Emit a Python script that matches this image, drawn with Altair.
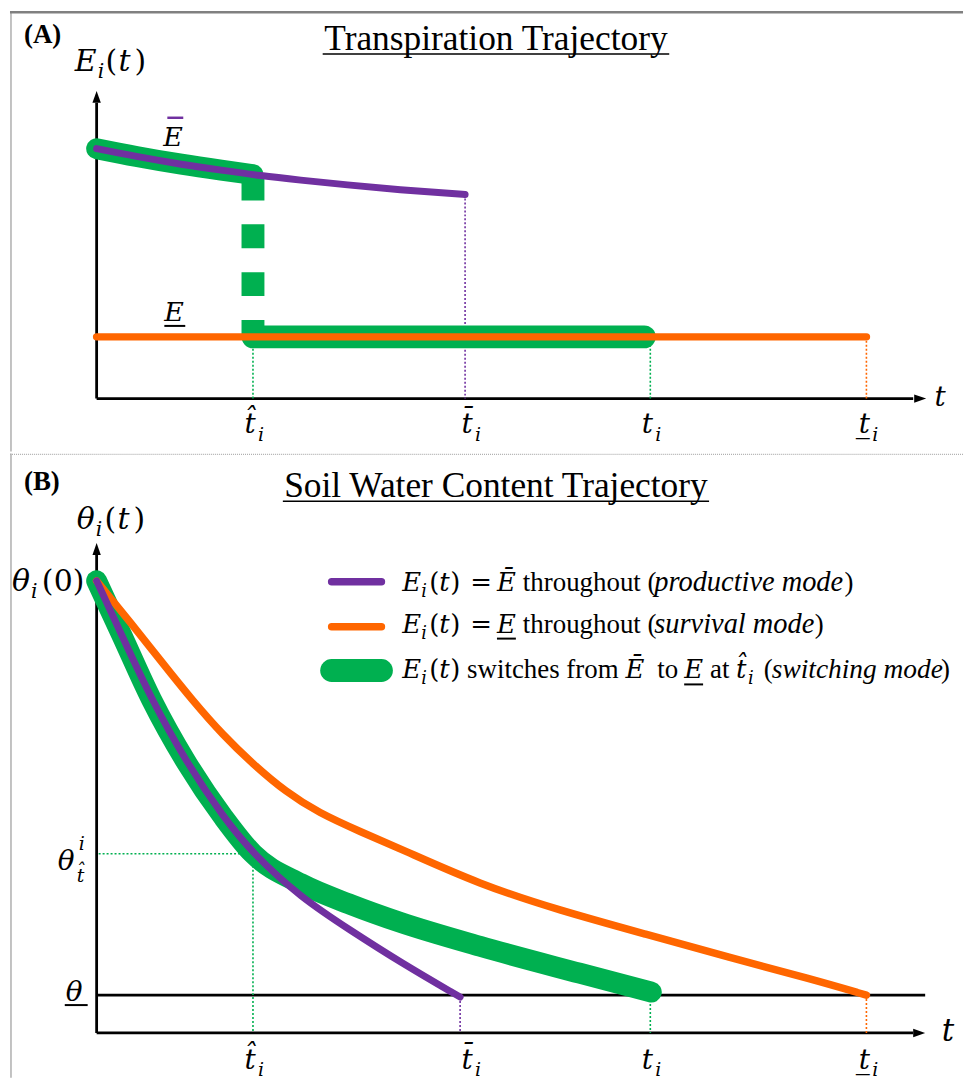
import altair as alt
import pandas as pd

# ---------------- values (arbitrary units) ----------------
# time axis (shared by both panels)
t_hat = 1.57          # switching time  t̂_i
t_bar_A = 3.70        # end of productive mode (panel A)
t_bar_B = 3.65        # end of productive mode (panel B)
t_sw = 5.56           # end of switching mode  t_i
t_low = 7.73          # end of survival mode  t̲_i

tick_names = ["t\u0302", "t\u0304", "t", "t\u0332"]   # t̂, t̄, t, t̲  (subscript i added)
tick_label_t = [1.54, 3.72, 5.53, 7.71]

# Panel A : transpiration E_i(t)
A_prod_t = [0.00, 0.40, 0.85, 1.25, 1.65, 2.05, 2.52, 3.05, 3.70]
A_prod_E = [2.510, 2.432, 2.354, 2.294, 2.240, 2.194, 2.146, 2.098, 2.050]
A_sw_t = [0.00, 0.40, 0.85, 1.25, 1.57]
A_sw_E = [2.510, 2.432, 2.354, 2.294, 2.250]
E_low = 0.62          # E̲
E_sw_top = 2.23       # where the switch drops from Ē

# Panel B : soil water content θ_i(t)
B_prod_t = [0.00, 0.25, 0.55, 0.90, 1.27, 1.57, 2.05, 2.55, 3.05, 3.65]
B_prod_th = [4.54, 4.00, 3.35, 2.72, 2.17, 1.80, 1.36, 1.03, 0.71, 0.36]
B_sw_t = [0.00, 0.25, 0.55, 0.90, 1.27, 1.57, 2.05, 2.55, 3.05, 3.85, 4.85, 5.57]
B_sw_th = [4.54, 4.00, 3.35, 2.72, 2.17, 1.80, 1.50, 1.29, 1.11, 0.87, 0.60, 0.41]
B_surv_t = [0.00, 0.35, 0.65, 0.97, 1.27, 1.57, 1.90, 2.23, 2.65, 3.05, 3.85, 4.65,
            5.52, 6.35, 7.18, 7.73]
B_surv_th = [4.54, 4.11, 3.73, 3.33, 2.99, 2.70, 2.42, 2.21, 2.02, 1.85, 1.49, 1.23,
             0.99, 0.76, 0.54, 0.38]
theta_low = 0.38      # θ̲
theta_hat = 1.80      # θ at t̂

# ---------------- styling ----------------
PURPLE = "#7030A0"
ORANGE = "#FF6600"
GREEN = "#00B050"
MATH = "DejaVu Serif"
SERIF = "Liberation Serif"

W, HA, HB = 957, 442, 627
TOP_A, TOP_B = 8, 450

xs = alt.Scale(domain=[-0.87, 8.70], nice=False, zero=False)
ysA = alt.Scale(domain=[-0.53, 3.89], nice=False, zero=False)
ysB = alt.Scale(domain=[-0.45, 5.82], nice=False, zero=False)

ONE = pd.DataFrame({"k": [0]})


def text_at(s, X, Y, top, size=27, font=SERIF, style="normal", weight="normal",
            color="black", align="left"):
    return alt.Chart(ONE).mark_text(
        text=s, font=font, fontSize=size, fontStyle=style, fontWeight=weight,
        color=color, align=align, baseline="alphabetic"
    ).encode(x=alt.value(X - 8), y=alt.value(Y - top))


def rule_px(X1, X2, Y1, Y2, top, color="black", width=2.0, dash=None, cap="butt"):
    kw = dict(color=color, strokeWidth=width, strokeCap=cap)
    if dash:
        kw["strokeDash"] = dash
    return alt.Chart(ONE).mark_rule(**kw).encode(
        x=alt.value(X1 - 8), x2=alt.value(X2 - 8),
        y=alt.value(Y1 - top), y2=alt.value(Y2 - top))


def curve(t, v, ys, color, width, interp="monotone"):
    df = pd.DataFrame({"t": t, "v": v})
    return alt.Chart(df).mark_line(
        color=color, strokeWidth=width, strokeCap="round", strokeJoin="round",
        interpolate=interp
    ).encode(x=alt.X("t:Q", scale=xs, axis=None),
             y=alt.Y("v:Q", scale=ys, axis=None))


def seg(t1, v1, t2, v2, ys, color="black", width=2.8, dash=None, cap="butt"):
    df = pd.DataFrame({"t": [t1], "v": [v1], "t2": [t2], "v2": [v2]})
    kw = dict(color=color, strokeWidth=width, strokeCap=cap)
    if dash:
        kw["strokeDash"] = dash
    return alt.Chart(df).mark_rule(**kw).encode(
        x=alt.X("t:Q", scale=xs, axis=None), x2="t2:Q",
        y=alt.Y("v:Q", scale=ys, axis=None), y2="v2:Q")


def arrow(t, v, ys, shape):
    df = pd.DataFrame({"t": [t], "v": [v]})
    return alt.Chart(df).mark_point(
        shape=shape, filled=True, size=144, color="black", opacity=1, strokeWidth=0
    ).encode(x=alt.X("t:Q", scale=xs, axis=None), y=alt.Y("v:Q", scale=ys, axis=None))


UP = "M0,-1L0.7,1L-0.7,1Z"
RIGHT = "M1,0L-1,-0.7L-1,0.7Z"


def tick_labels(base_y_px, sub_y_px):
    df = pd.DataFrame({"t": tick_label_t, "s": tick_names})
    main = alt.Chart(df).mark_text(
        font=MATH, fontSize=28, fontStyle="italic", align="center", baseline="alphabetic"
    ).encode(x=alt.X("t:Q", scale=xs, axis=None), y=alt.value(base_y_px), text="s:N")
    sub = alt.Chart(df).mark_text(
        font=MATH, fontSize=19, fontStyle="italic", align="center", baseline="alphabetic",
        dx=11, text="i"
    ).encode(x=alt.X("t:Q", scale=xs, axis=None), y=alt.value(sub_y_px))
    return [main, sub]


def func_of(sym, arg, X, Y, top, size, off, arg_italic=True):
    """sym_i(arg) built from pieces; off = x offsets of (i, '(', arg, ')')."""
    return [
        text_at(sym, X, Y, top, size=size, font=MATH, style="italic"),
        text_at("i", X + off[0], Y + round(size * 0.24), top, size=size * 0.68,
                font=MATH, style="italic"),
        text_at("(", X + off[1], Y, top, size=size, font=MATH),
        text_at(arg, X + off[2], Y, top, size=size, font=MATH,
                style="italic" if arg_italic else "normal"),
        text_at(")", X + off[3], Y, top, size=size, font=MATH),
    ]


LEG_OFF = (19, 27, 37, 48)

# ======================= Panel A =======================
TA = TOP_A
layersA = [
    rule_px(9, 9, 8, 450, TA, color="#9a9a9a", width=1.2),
    rule_px(8, 965, 9, 9, TA, color="#808080", width=2.5),
    # axes
    seg(0, 0, 0, 2.97, ysA), arrow(0, 3.03, ysA, UP),
    seg(0, 0, 8.2, 0, ysA), arrow(8.27, 0, ysA, RIGHT),
    # dotted drop lines
    seg(t_hat, E_low, t_hat, 0, ysA, color=GREEN, width=1.6, dash=[2, 2]),
    seg(t_bar_A, 2.05, t_bar_A, 0, ysA, color=PURPLE, width=1.6, dash=[2, 2]),
    seg(t_sw, E_low, t_sw, 0, ysA, color=GREEN, width=1.6, dash=[2, 2]),
    seg(t_low, E_low, t_low, 0, ysA, color=ORANGE, width=1.6, dash=[2, 2]),
    # switching mode (green)
    curve(A_sw_t, A_sw_E, ysA, GREEN, 21),
    seg(t_hat, E_sw_top, t_hat, E_low, ysA, color=GREEN, width=23, dash=[24, 24]),
    curve([t_hat, t_sw - 0.06], [E_low, E_low], ysA, GREEN, 23, interp="linear"),
    # survival mode (orange) and productive mode (purple)
    curve([0, t_low], [E_low, E_low], ysA, ORANGE, 7.5, interp="linear"),
    curve(A_prod_t, A_prod_E, ysA, PURPLE, 7),
    # labels
    text_at("(A)", 22, 40, TA, size=27, weight="bold"),
    text_at("Transpiration Trajectory", 496, 47, TA, size=35.5, align="center"),
    rule_px(322, 670, 51, 51, TA, width=1.6),
    *func_of("E", "t", 73, 68, TA, 30, (23, 31, 44, 60)),
    text_at("E", 162, 143, TA, size=27, font=MATH, style="italic"),
    rule_px(166, 182, 115, 115, TA, color=PURPLE, width=2.5),
    text_at("E", 163, 319, TA, size=27, font=MATH, style="italic"),
    rule_px(163, 184, 324, 324, TA, width=2),
    text_at("t", 942, 404, TA, size=28, font=MATH, style="italic", align="center"),
    *tick_labels(432 - TA, 440 - TA),
]
panelA = alt.layer(*layersA).properties(width=W, height=HA)

# ======================= Panel B =======================
TB = TOP_B
layersB = [
    rule_px(9, 9, 450, 1077, TB, color="#9a9a9a", width=1.2),
    rule_px(8, 965, 451, 451, TB, color="#b0b0b0", width=1.2, dash=[1, 1]),
    # axes and threshold
    seg(0, 0, 0, 4.80, ysB), arrow(0, 4.86, ysB, UP),
    seg(0, 0, 8.2, 0, ysB), arrow(8.26, 0, ysB, RIGHT),
    seg(0, theta_low, 8.32, theta_low, ysB),
    # dotted guides
    seg(0.02, theta_hat, t_hat, theta_hat, ysB, color=GREEN, width=1.6, dash=[2, 2]),
    seg(t_hat, theta_hat, t_hat, 0, ysB, color=GREEN, width=1.6, dash=[2, 2]),
    seg(t_bar_B, 0.36, t_bar_B, 0, ysB, color=PURPLE, width=1.6, dash=[2, 2]),
    seg(t_sw, 0.41, t_sw, 0, ysB, color=GREEN, width=1.6, dash=[2, 2]),
    seg(t_low, 0.38, t_low, 0, ysB, color=ORANGE, width=1.6, dash=[2, 2]),
    # trajectories
    curve(B_sw_t, B_sw_th, ysB, GREEN, 21),
    curve(B_surv_t, B_surv_th, ysB, ORANGE, 7.5, interp="basis"),
    curve(B_prod_t, B_prod_th, ysB, PURPLE, 7, interp="basis"),
    # titles & axis labels
    text_at("(B)", 22, 487, TB, size=27, weight="bold"),
    text_at("Soil Water Content Trajectory", 496, 494, TB, size=35.5, align="center"),
    rule_px(282, 710, 498, 498, TB, width=1.6),
    *func_of("\u03b8", "t", 75, 526, TB, 30, (19, 28, 41, 57)),
    *func_of("\u03b8", "0", 10, 588, TB, 30, (19, 30, 42, 61), arg_italic=False),
    text_at("\u03b8", 56, 868, TB, size=28, font=MATH, style="italic"),
    text_at("i", 77, 848, TB, size=19, font=MATH, style="italic"),
    text_at("t\u0302", 75, 880, TB, size=19, font=MATH, style="italic"),
    text_at("\u03b8", 64, 1000, TB, size=28, font=MATH, style="italic"),
    rule_px(63, 86, 1004, 1004, TB, width=2),
    text_at("t", 950, 1040, TB, size=31, font=MATH, style="italic", align="center"),
    *tick_labels(1068 - TB, 1075 - TB),
    # legend row 1
    rule_px(331, 381, 579, 579, TB, color=PURPLE, width=7.5, cap="round"),
    *func_of("E", "t", 402, 588, TB, 26, LEG_OFF),
    text_at("=", 481, 588, TB, size=26, font=MATH, align="center"),
    text_at("\u0112", 497, 588, TB, size=26, font=MATH, style="italic"),
    text_at("throughout (", 523, 588, TB, size=27),
    text_at("productive mode", 655, 588, TB, size=28.5, style="italic"),
    text_at(")", 846, 588, TB, size=27),
    # legend row 2
    rule_px(331, 381, 624, 624, TB, color=ORANGE, width=7.5, cap="round"),
    *func_of("E", "t", 402, 630, TB, 26, LEG_OFF),
    text_at("=", 481, 630, TB, size=26, font=MATH, align="center"),
    text_at("E", 497, 630, TB, size=26, font=MATH, style="italic"),
    rule_px(497, 516, 636, 636, TB, width=2),
    text_at("throughout (", 523, 630, TB, size=27),
    text_at("survival mode", 655, 630, TB, size=28.5, style="italic"),
    text_at(")", 816, 630, TB, size=27),
    # legend row 3
    rule_px(331, 381, 668, 668, TB, color=GREEN, width=23, cap="round"),
    *func_of("E", "t", 402, 676, TB, 26, LEG_OFF),
    text_at("switches from", 467, 676, TB, size=27),
    text_at("\u0112", 626, 676, TB, size=26, font=MATH, style="italic"),
    text_at("to", 658, 676, TB, size=27),
    text_at("E", 685, 676, TB, size=26, font=MATH, style="italic"),
    rule_px(685, 704, 682, 682, TB, width=2),
    text_at("at", 711, 676, TB, size=27),
    text_at("t\u0302", 737, 676, TB, size=26, font=MATH, style="italic"),
    text_at("i", 749, 682, TB, size=18, font=MATH, style="italic"),
    text_at("(", 765, 676, TB, size=27),
    text_at("switching mode", 773, 676, TB, size=27.5, style="italic"),
    text_at(")", 943, 676, TB, size=27),
]
panelB = alt.layer(*layersB).properties(width=W, height=HB)

chart = alt.vconcat(panelA, panelB, spacing=0).properties(
    padding=0, background="white"
).configure_view(stroke=None)

chart.save("out.html", embed_options={"renderer": "svg", "actions": False})
